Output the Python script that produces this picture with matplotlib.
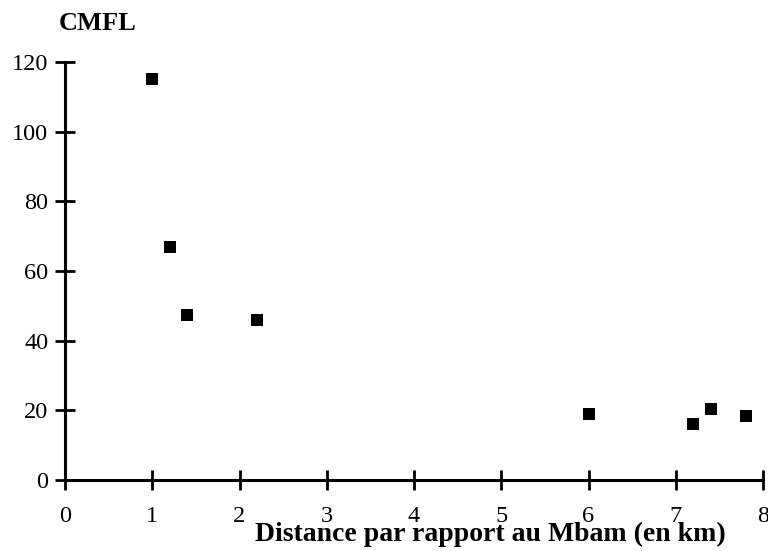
import matplotlib
matplotlib.use("Agg")
import matplotlib.pyplot as plt

distance_km = [1.0, 1.2, 1.4, 2.2, 6.0, 7.2, 7.4, 7.8]
cmfl = [115, 67, 47.5, 46, 19, 16, 20.5, 18.5]
x_ticks = [0, 1, 2, 3, 4, 5, 6, 7, 8]
y_ticks = [0, 20, 40, 60, 80, 100, 120]

plt.rcParams['font.family'] = ['Liberation Serif', 'DejaVu Serif']

fig = plt.figure(figsize=(7.68, 5.51), dpi=100)
ax = fig.add_axes([65/768, 71/551, 698/768, 418/551])

ax.scatter(distance_km, cmfl, marker='s', s=75, color='black', zorder=3, linewidths=0)

ax.set_xlim(0, 8)
ax.set_ylim(0, 120)
ax.set_xticks(x_ticks)
ax.set_yticks(y_ticks)
for s in ['top', 'right']:
    ax.spines[s].set_visible(False)
for s in ['left', 'bottom']:
    ax.spines[s].set_linewidth(2.2)
ax.tick_params(direction='inout', length=14, width=2, labelsize=17.5)
ax.tick_params(axis='y', pad=5)
ax.tick_params(axis='x', pad=12)

fig.text(98/768, 1 - 24/551, 'CMFL', ha='center', va='center', fontsize=19, fontweight='bold')
fig.text(490/768, 1 - 534/551, 'Distance par rapport au Mbam (en km)', ha='center', va='center',
         fontsize=20, fontweight='bold')

fig.savefig('out.png', dpi=100, facecolor='white')
